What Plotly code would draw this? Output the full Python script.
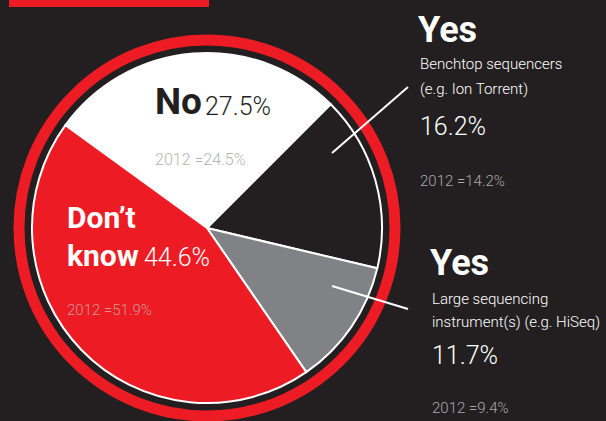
import plotly.graph_objects as go

# Data
categories = ["No", "Yes – Benchtop sequencers", "Yes – Large sequencing instrument(s)", "Don't know"]
values_2013 = [27.5, 16.2, 11.7, 44.6]
values_2012 = [24.5, 14.2, 9.4, 51.9]
slice_colors = ["#ffffff", "#231f20", "#808285", "#ed1c24"]

W, H = 606, 421
BG = "#231f20"
RED = "#ed1c24"
FONT = "Roboto, Lato, sans-serif"


def px(x):
    return x / W


def py(y):
    return 1 - y / H


cx, cy, r = 207, 228, 175

fig = go.Figure()
fig.add_trace(go.Pie(
    labels=categories,
    values=values_2013,
    sort=False,
    direction="clockwise",
    rotation=-54,
    marker=dict(colors=slice_colors, line=dict(color="#ffffff", width=2)),
    textinfo="none",
    hoverinfo="label+percent",
    showlegend=False,
    domain=dict(x=[px(cx - r), px(cx + r)], y=[py(cy + r), py(cy - r)]),
))

shapes = [
    # red outer ring
    dict(type="circle", xref="paper", yref="paper",
         x0=px(cx - 188), x1=px(cx + 188), y0=py(cy + 188), y1=py(cy - 188),
         line=dict(color=RED, width=11), layer="above"),
    # red header bar
    dict(type="rect", xref="paper", yref="paper",
         x0=px(9), x1=px(209), y0=py(7), y1=py(-5),
         line=dict(width=0), fillcolor=RED, layer="above"),
    # leader lines
    dict(type="line", xref="paper", yref="paper",
         x0=px(332), y0=py(153), x1=px(408), y1=py(87),
         line=dict(color="#ffffff", width=2), layer="above"),
    dict(type="line", xref="paper", yref="paper",
         x0=px(332), y0=py(286), x1=px(408), y1=py(309),
         line=dict(color="#ffffff", width=2), layer="above"),
]

annotations = []


def add(text, x, y, size, color, weight=400):
    annotations.append(dict(
        text=text, x=px(x), y=py(y), xref="paper", yref="paper",
        xanchor="left", yanchor="middle", showarrow=False,
        font=dict(size=size, color=color, family=FONT, weight=weight), align="left",
    ))


# No
add(categories[0], 153, 101, 37, BG, 700)
add(f"{values_2013[0]}%", 203, 107, 25, BG, 300)
add(f"2012 ={values_2012[0]}%", 153, 160, 16, "#b3b3b3", 300)

# Yes benchtop
add("Yes", 416, 30, 36, "#ffffff", 700)
add("Benchtop sequencers", 418, 64, 15, "#ffffff", 300)
add("(e.g. Ion Torrent)", 418, 89, 15, "#ffffff", 300)
add(f"{values_2013[1]}%", 418, 126, 25, "#ffffff", 300)
add(f"2012 ={values_2012[1]}%", 418, 181, 15, "#a7a9ac", 300)

# Don't know
add("Don’t", 65, 217, 30, "#ffffff", 700)
add("know", 65, 255, 30, "#ffffff", 700)
add(f"{values_2013[3]}%", 142, 257, 25, "#ffffff", 300)
add(f"2012 ={values_2012[3]}%", 65, 310, 15, "#cf9698", 300)

# Yes large
add("Yes", 428, 263, 36, "#ffffff", 700)
add("Large sequencing", 430, 299, 15, "#ffffff", 300)
add("instrument(s) (e.g. HiSeq)", 430, 322, 15, "#ffffff", 300)
add(f"{values_2013[2]}%", 430, 355, 25, "#ffffff", 300)
add(f"2012 ={values_2012[2]}%", 430, 408, 15, "#a7a9ac", 300)

fig.update_layout(
    width=W, height=H,
    margin=dict(l=0, r=0, t=0, b=0),
    paper_bgcolor=BG, plot_bgcolor=BG,
    shapes=shapes, annotations=annotations,
    showlegend=False,
)

fig.write_html(
    "out.html",
    config={"displayModeBar": False},
    post_script="document.body.style.margin='0';document.body.style.background='#231f20';",
)
